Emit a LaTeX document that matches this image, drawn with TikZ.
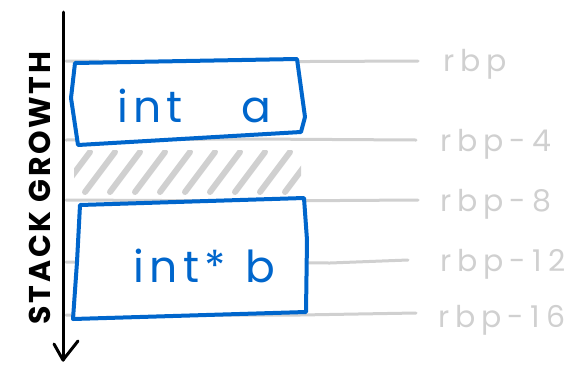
\documentclass[tikz,border=0pt]{standalone}
\usepackage{fontspec}
\setmainfont{Poppins}
\newfontfamily\labfont[LetterSpace=20]{Poppins}
\newfontfamily\boxfont[LetterSpace=12]{Poppins}
\newfontfamily\axfont[LetterSpace=9]{Poppins}
\usetikzlibrary{arrows.meta}
\definecolor{penblue}{RGB}{0,102,204}
\definecolor{pengray}{RGB}{208,208,208}
\tikzset{
  blueline/.style={draw=penblue, line width=4pt, line join=round, line cap=round},
  grayline/.style={draw=pengray, line width=3pt, line cap=round},
  hatchline/.style={draw=pengray, line width=6pt, line cap=round},
  lab/.style={anchor=west, text=pengray, font=\labfont\fontsize{30}{30}\selectfont, inner sep=0pt},
  boxtext/.style={text=penblue, font=\boxfont\fontsize{44}{44}\selectfont, inner sep=0pt},
}
\begin{document}
\begin{tikzpicture}[x=1pt,y=-1pt]
\useasboundingbox (0,0) rectangle (584,365);
% gray offset lines
\coordinate (l0s) at (66,61);   \coordinate (l0e) at (418,61);
\coordinate (l1s) at (66,140);  \coordinate (l1e) at (416,140);
\coordinate (l2s) at (66,200);  \coordinate (l2e) at (418,200);
\coordinate (l3s) at (66,262);  \coordinate (l3e) at (408,260);
\coordinate (l4s) at (66,315);  \coordinate (l4e) at (416,313);
\draw[grayline] (l0s) -- (200,62) -- (l0e);
\draw[grayline] (l1s) -- (250,139) -- (l1e);
\draw[grayline] (l2s) -- (260,201) -- (l2e);
\draw[grayline] (l3s) -- (330,263) -- (l3e);
\draw[grayline] (l4s) -- (300,315) -- (l4e);
% hatch
\begin{scope}
\clip (74,150) rectangle (301,196);
\foreach \x in {60,85,...,320}{
  \draw[hatchline] (\x,192) -- (\x+30,152);
}
\end{scope}
% boxes
\draw[blueline,fill=white] (75,63) -- (297,59) -- (305,117) -- (301,132) -- (78,145) -- (71,98) -- cycle;
\draw[blueline,fill=white] (80,205) -- (304,198) -- (307,240) -- (306,312) -- (73,319) -- (77,262) -- cycle;
% box texts
\node[boxtext, anchor=base] (ta) at (150,122) {int};
\node[boxtext, anchor=base] (va) at (256,122) {a};
\node[boxtext, anchor=base] (tb) at (180,282) {int*};
\node[boxtext, anchor=base] (vb) at (260,282) {b};
% labels
\node[lab, anchor=base west] (r0) at (443,71) {rbp};
\node[lab, anchor=base west] (r1) at (440,151) {rbp-4};
\node[lab, anchor=base west] (r2) at (440,211) {rbp-8};
\node[lab, anchor=base west] (r3) at (440,271) {rbp-12};
\node[lab, anchor=base west] (r4) at (438,327) {rbp-16};
% axis
\coordinate (atop) at (63,12);
\coordinate (abot) at (63,360);
\draw[line width=3pt, line cap=round, line join=round] (atop) -- (abot);
\draw[line width=3pt, line cap=round, line join=round] (54,344) -- (abot) -- (78,341);
\node[rotate=90, font=\axfont\bfseries\fontsize{30}{30}\selectfont, inner sep=0pt] (sg) at (40,188) {STACK GROWTH};
\end{tikzpicture}
\end{document}
